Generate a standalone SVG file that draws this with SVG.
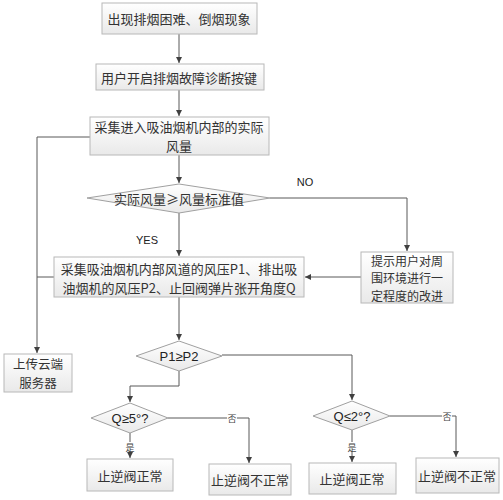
<svg xmlns="http://www.w3.org/2000/svg" width="503" height="500" viewBox="0 0 503 500">
<style>
.b{fill:url(#g);stroke:#b8b8b8;stroke-width:1}
.d{fill:url(#g);stroke:#a0a0a0;stroke-width:1}
.t{font-family:"Noto Sans CJK SC","Liberation Sans",sans-serif;font-size:13px;fill:#333;text-anchor:middle;dominant-baseline:central}
.l{font-family:"Liberation Sans","Noto Sans CJK SC",sans-serif;font-size:11px;fill:#222;text-anchor:middle;dominant-baseline:central}
.s{font-family:"Noto Sans CJK SC",sans-serif;font-size:9px;fill:#444;text-anchor:middle;dominant-baseline:central}
.c{fill:none;stroke:#595959;stroke-width:1}
</style>
<defs>
<linearGradient id="g" x1="0" y1="0" x2="0" y2="1"><stop offset="0" stop-color="#ffffff"/><stop offset="1" stop-color="#e9e9e9"/></linearGradient>
<marker id="a" markerWidth="8" markerHeight="8" refX="6" refY="3" orient="auto" markerUnits="userSpaceOnUse"><path d="M0,0 L6,3 L0,6 z" fill="#404040"/></marker>
</defs>
<rect width="503" height="500" fill="#fff"/>
<g id="connectors">
<path class="c" d="M179,34 V63" marker-end="url(#a)"/>
<path class="c" d="M179,90 V116" marker-end="url(#a)"/>
<path class="c" d="M179,155 V183" marker-end="url(#a)"/>
<path class="c" d="M90,137 H37 V353" marker-end="url(#a)"/>
<path class="c" d="M54,277 H37"/>
<path class="c" d="M179,213 V256" marker-end="url(#a)"/>
<path class="c" d="M270,198 H407 V251" marker-end="url(#a)"/>
<path class="c" d="M361,277 H305" marker-end="url(#a)"/>
<path class="c" d="M179,297 V340" marker-end="url(#a)"/>
<path class="c" d="M222,355 H352 V400" marker-end="url(#a)"/>
<path class="c" d="M179,371 V386 H130 V402" marker-end="url(#a)"/>
<path class="c" d="M168,418 H249 V463" marker-end="url(#a)"/>
<path class="c" d="M130,433 V458" marker-end="url(#a)"/>
<path class="c" d="M390,416 H456 V457" marker-end="url(#a)"/>
<path class="c" d="M352,430 V462" marker-end="url(#a)"/>
<rect x="227" y="413" width="10" height="10" fill="#fff"/>
<text class="s" x="232" y="418">否</text>
<rect x="125" y="442" width="10" height="10" fill="#fff"/>
<text class="s" x="130" y="447">是</text>
<rect x="442" y="411" width="10" height="10" fill="#fff"/>
<text class="s" x="447" y="416">否</text>
<rect x="347" y="442" width="10" height="10" fill="#fff"/>
<text class="s" x="352" y="447">是</text>
<text class="l" x="305" y="182">NO</text>
<text class="l" x="147" y="240">YES</text>
</g>
<g id="n1"><rect class="b" x="102" y="3" width="155" height="31"/><text class="t" x="179" y="18.5">出现排烟困难、倒烟现象</text></g>
<g id="n2"><rect class="b" x="96" y="64" width="168" height="26"/><text class="t" x="179" y="77">用户开启排烟故障诊断按键</text></g>
<g id="n3"><rect class="b" x="90" y="117" width="179" height="38"/><text class="t" x="179" y="126.5">采集进入吸油烟机内部的实际</text><text class="t" x="179" y="145.5">风量</text></g>
<g id="n4"><polygon class="d" points="87,198 179,184 270,198 179,213"/><text class="t" x="179" y="198">实际风量≥风量标准值</text></g>
<g id="n5"><rect class="b" x="54" y="257" width="250" height="40"/><text class="t" x="179" y="268">采集吸油烟机内部风道的风压P1、排出吸</text><text class="t" x="179" y="287">油烟机的风压P2、止回阀弹片张开角度Q</text></g>
<g id="n6"><rect class="b" x="361" y="252" width="92" height="51"/><text class="t" x="407" y="260" style="font-size:12px">提示用户对周</text><text class="t" x="407" y="277.5" style="font-size:12px">围环境进行一</text><text class="t" x="407" y="295" style="font-size:12px">定程度的改进</text></g>
<g id="n7"><rect class="b" x="4" y="354" width="68" height="38"/><text class="t" x="38" y="363" style="font-size:12.5px">上传云端</text><text class="t" x="38" y="382" style="font-size:12.5px">服务器</text></g>
<g id="n8"><polygon class="d" points="136,356 179,341 222,356 179,371"/><text class="l" x="179" y="356" style="font-size:13px">P1≥P2</text></g>
<g id="n9"><polygon class="d" points="91,418 130,403 168,418 130,433"/><text class="l" x="130" y="418" style="font-size:13px">Q≥5°?</text></g>
<g id="n10"><polygon class="d" points="313,416 352,401 390,416 352,430"/><text class="l" x="352" y="416" style="font-size:13px">Q≤2°?</text></g>
<g id="n11"><rect class="b" x="87" y="459" width="86" height="32"/><text class="t" x="130" y="475">止逆阀正常</text></g>
<g id="n12"><rect class="b" x="209" y="464" width="82" height="31"/><text class="t" x="250" y="479.5">止逆阀不正常</text></g>
<g id="n13"><rect class="b" x="309" y="463" width="87" height="31"/><text class="t" x="352" y="478.5">止逆阀正常</text></g>
<g id="n14"><rect class="b" x="416" y="458" width="83" height="35"/><text class="t" x="457" y="475.5">止逆阀不正常</text></g>
</svg>
